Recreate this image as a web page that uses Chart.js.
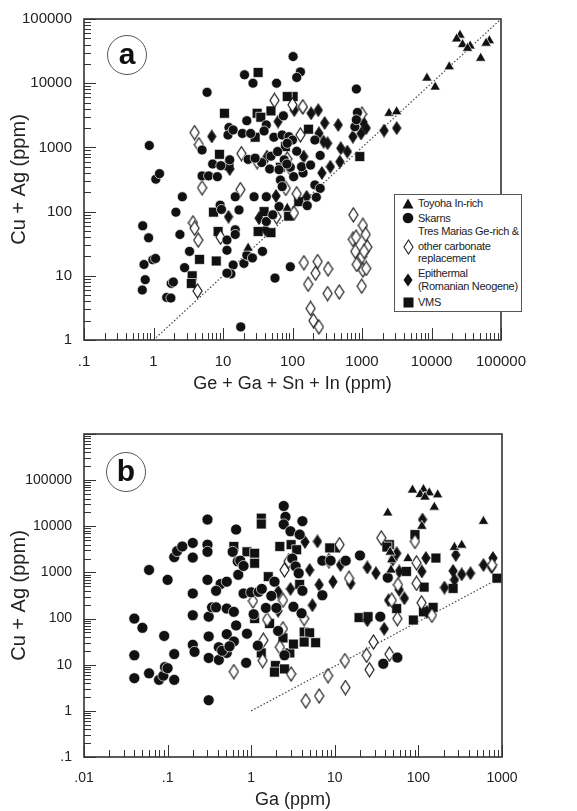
<!DOCTYPE html>
<html>
<head>
<meta charset="utf-8">
<script src="https://cdn.jsdelivr.net/npm/chart.js@4.4.1/dist/chart.umd.min.js"></script>
<style>
  body { margin: 0; background: #fff; font-family: "Liberation Sans", Arial, sans-serif; color: #222; }
  #wrap { position: relative; width: 577px; height: 811px; overflow: hidden; }
  canvas { position: absolute; left: 0; }
  #chartA { top: 0; }
  #chartB { top: 400px; }
  .panel { position: absolute; width: 38px; height: 38px; border: 1.3px solid #555; border-radius: 50%;
           font-weight: bold; font-size: 30px; line-height: 36px; text-align: center; color: #111; }
  .legend { position: absolute; box-sizing: border-box; border: 1px solid #555; background: #fff; }
  .legend span { position: absolute; left: 23px; font-size: 11px; line-height: 13px; letter-spacing: -0.3px; white-space: nowrap; color: #222; }
  .legend svg { position: absolute; }
</style>
</head>
<body>
<div id="wrap">
  <canvas id="chartA" width="577" height="400"></canvas>
  <canvas id="chartB" width="577" height="411"></canvas>
  <div class="panel" style="left:107px;top:35px">a</div>
  <div class="panel" style="left:106px;top:452px">b</div>
  <div class="legend" style="left:394px;top:194px;width:128px;height:118px">
    <svg style="left:7px;top:3px" width="12" height="11"><polygon points="6,0.5 11.5,10.5 0.5,10.5" fill="#111"/></svg>
    <span style="top:2px">Toyoha In-rich</span>
    <svg style="left:7px;top:17px" width="12" height="12"><circle cx="6" cy="6" r="5.3" fill="#111"/></svg>
    <span style="top:17px">Skarns</span>
    <svg style="left:8px;top:44px" width="11" height="16"><polygon points="5.5,1 10,8 5.5,15 1,8" fill="#fff" stroke="#222" stroke-width="1.1"/></svg>
    <span style="top:30px">Tres Marias Ge-rich &amp;</span>
    <span style="top:45px">other carbonate</span>
    <span style="top:57px">replacement</span>
    <svg style="left:8px;top:78px" width="10" height="14"><polygon points="5,0.5 9.5,7 5,13.5 0.5,7" fill="#111"/></svg>
    <span style="top:72px">Epithermal</span>
    <span style="top:84.5px">(Romanian Neogene)</span>
    <svg style="left:8px;top:102px" width="11" height="11"><rect x="0.5" y="0.5" width="10" height="10" fill="#111"/></svg>
    <span style="top:100.5px">VMS</span>
  </div>
</div>
<script>
// ---------- panel a : Ge+Ga+Sn+In vs Cu+Ag ----------
const xTicksA = [0.1, 1, 10, 100, 1000, 10000, 100000];
const yTicksA = [1, 10, 100, 1000, 10000, 100000];
const refLineA = [[1, 1], [100000, 100000]];

const toyohaA = [[25700,56000],[23000,49000],[28000,40000],[36000,38000],[51000,24500],[68000,46000],
  [61000,42000],[18000,18000],[8600,12000],[11300,8700],[2450,3400],[3150,3600],[33000,35000],[23,27],[84,113]];

const skarnsA = [[102,26000],[130,15000],[115,12300],[20.4,13500],[27,10000],[59,10000],[5.9,7200],[830,8100],
  [74,3100],[42,2240],[22,2600],[12.2,2040],[11.8,1560],[14,1870],[19,1650],[25,1650],[39,1800],[54,1440],
  [71,1560],[89,1470],[0.87,1070],[5.0,910],[5.0,360],[6.2,360],[8.3,350],[1.08,320],[1.22,390],[2.6,170],
  [2.1,98],[2.4,44],[3.3,24],[2.8,13.4],[0.7,60],[0.85,39],[0.73,15],[0.69,6.0],[0.76,8.7],[0.98,17.8],
  [1.07,18.6],[1.8,7.6],[1.93,8],[1.55,4.6],[1.78,4.5],[7.1,550],[9.3,520],[12.5,640],[17,106],[23,650],
  [36,580],[47,460],[64,450],[67,310],[93,490],[71,245],[28,170],[42,170],[15,170],[9.1,126],[9.5,108],
  [11.4,36],[15,52],[15,44],[11.4,25],[14,14.7],[13,10.7],[11.4,11],[20,15.6],[23,20.4],[22,21],[26.5,19],
  [37,24],[42,70],[52,89],[64,120],[93,13.8],[56,9.2],[18,1.6],[860,3500],[790,2100],[830,2700],[250,750],
  [210,260],[250,230],[220,167],[163,124],[142,400],[135,500],[115,870],[100,1300],[210,1300],[182,530],
  [76,640],[83,550],[104,350],[29,680],[49,730],[61,860],[84,1160]];

const tresMariasA = [[3.9,1700],[4.5,1100],[5.0,235],[3.7,67],[3.9,55],[4.4,36],[9.2,40],[4.3,5.8],[18.4,800],
  [17.8,220],[31,600],[55,5400],[84,660],[80,230],[59,83],[100,4600],[141,4300],[130,1570],[92,480],[115,190],
  [105,95],[750,89],[1030,61],[740,37],[820,40],[800,24],[1130,44],[1190,28],[1000,20],[1070,24],[1030,12.3],
  [1150,13],[990,6.9],[840,15],[146,16],[215,11],[230,16.7],[168,7.4],[325,12.8],[320,5.3],[470,5.6],
  [182,3.1],[200,2.0],[240,1.6],[1000,3300]];

const epithermalA = [[6.9,1480],[12.5,460],[12,83],[43,720],[58,175],[41,52],[33,79],[62,2530],[106,3800],
  [140,4200],[185,3400],[235,3800],[290,2400],[240,1660],[320,1160],[455,2240],[495,970],[615,860],[480,600],
  [350,500],[265,400],[740,1470],[970,1650],[1150,2000],[1030,2500],[2080,1830],[3160,2000],[280,1230],
  [145,720],[102,94],[160,170]];

const vmsA = [[32,14700],[102,6200],[84,6200],[10.5,3400],[31,3400],[49,3700],[35,2950],[29,1440],[170,1920],
  [79,1030],[8.9,780],[12.2,520],[7.3,98],[8.5,49],[8.0,17],[4.6,18],[3.6,10],[3.5,7.6],[39,100],[32,49],
  [49,47],[88,85],[123,143],[67,490],[930,720]];

// ---------- panel b : Ga vs Cu+Ag ----------
const xTicksB = [0.01, 0.1, 1, 10, 100, 1000];
const yTicksB = [0.1, 1, 10, 100, 1000, 10000, 100000];
const yMaxB = 1000000;
const refLineB = [[1, 1], [1000, 800]];

const toyohaB = [[85,61000],[115,63000],[135,53000],[105,49000],[170,48000],[155,26000],[120,43000],[43,19500],
  [600,12800],[270,3500],[330,3900],[75,2000],[48,1880],[47,1130],[46,2750],[110,10000]];

const skarnsB = [[0.04,100],[0.05,63],[0.04,16],[0.04,5.1],[0.06,6.5],[0.079,4.7],[0.089,5.8],[0.091,42],
  [0.093,8.9],[0.1,8.4],[0.12,4.7],[0.12,17],[0.1,690],[0.06,1130],[0.12,2140],[0.13,2900],[0.15,3650],
  [0.2,4350],[0.2,2100],[0.2,350],[0.2,118],[0.2,27],[0.21,19],[0.3,14000],[0.3,4000],[0.3,2800],[0.3,690],
  [0.31,110],[0.31,41],[0.31,14],[0.31,1.7],[0.34,175],[0.38,175],[0.43,560],[0.38,400],[0.41,24],[0.41,12.7],
  [0.51,630],[0.51,165],[0.51,46],[0.51,18],[0.62,140],[0.62,32],[0.66,8500],[0.6,2800],[0.69,1740],
  [0.74,1800],[0.7,890],[0.66,71],[0.81,1380],[0.81,350],[0.89,47],[0.87,11],[1.0,370],[1.23,380],[1.07,124],
  [1.2,26],[1.5,170],[1.74,310],[1.9,630],[2.0,170],[2.1,54],[2.45,27500],[2.57,16000],[2.45,11000],
  [2.95,7800],[3.8,6600],[4.1,12900],[3.1,2000],[3.4,1350],[3.7,960],[4.1,400],[3.2,180],[4.0,130],[7.1,320],
  [7.1,1800],[8.9,1800],[13.5,1800],[20,2330],[35,110],[38,10.5],[56,14.3],[43,770],[2.5,16],[1.34,440],
  [0.45,20],[0.55,25]];

const tresMariasB = [[36,5600],[91,4700],[95,1620],[95,580],[11.4,4000],[8.5,1800],[14.8,750],[2.5,1130],
  [2.8,1740],[2.4,250],[1.55,95],[1.4,34],[1.37,12.3],[1.05,240],[2.2,24],[2.4,60],[3.0,6.3],[0.62,7.1],
  [4.3,100],[4.5,1.65],[6.5,2.1],[8.3,5.8],[13.2,12.3],[13.4,3.2],[24,16],[26,7.8],[29,31],[45,17],[56,100],
  [48,250],[57,540],[109,220],[145,118],[760,1450]];

const epithermalB = [[2.1,380],[2.95,440],[4.4,4600],[6.2,4700],[5.0,1130],[6.5,540],[5.4,195],[9.5,630],
  [11.7,1450],[24.5,1280],[31,960],[15.5,580],[49,1870],[55,2600],[59,1050],[44,250],[39,60],[59,420],[68,275],
  [112,14000],[123,2050],[110,1050],[126,140],[205,470],[280,2400],[260,1080],[270,690],[330,910],[420,960],
  [600,1450],[780,2050],[750,1300],[24.5,92],[2.1,148]];

const vmsB = [[1.32,15000],[1.32,11200],[0.62,3650],[0.89,2800],[1.1,2600],[1.1,1580],[1.6,810],[1.1,100],
  [1.66,78],[1.32,18],[1.95,9.6],[1.9,6.9],[2.5,8.1],[2.2,3650],[3.0,4000],[3.5,3100],[2.4,38],[2.9,18],
  [3.2,28],[3.8,550],[4.3,51],[5.0,49],[5.9,30],[4.3,31],[10,3400],[8.7,3400],[19.5,105],[25,110],[45,4000],
  [42,3550],[72,1050],[55,165],[87,93],[115,140],[91,6600],[117,480],[150,175],[162,2050],[260,450],[870,750]];

// ---------- helpers ----------
function pts(arr) { return arr.map(p => ({ x: p[0], y: p[1] })); }

function diamond(w, h, fill) {
  const c = document.createElement('canvas');
  c.width = w + 2; c.height = h + 2;
  const g = c.getContext('2d');
  g.beginPath();
  g.moveTo(c.width / 2, 1); g.lineTo(w + 1, c.height / 2);
  g.lineTo(c.width / 2, h + 1); g.lineTo(1, c.height / 2);
  g.closePath();
  g.fillStyle = fill; g.fill();
  g.lineWidth = 1.2; g.strokeStyle = '#1a1a1a'; g.stroke();
  return c;
}
const openDiamond = diamond(9, 14, '#fff');
const solidDiamond = diamond(8, 12, '#111');

function fmt(v) { return String(v).replace(/^0\./, '.'); }

function series(label, arr, style, r) {
  return {
    label, data: pts(arr), order: 1,
    pointStyle: style, pointRadius: r, pointHoverRadius: r,
    pointBackgroundColor: '#111', pointBorderColor: 'rgba(255,255,255,0.85)', pointBorderWidth: 0.8
  };
}

// frame + inward log tick marks, positions from the chart's own scales
const frameTicks = {
  id: 'frameTicks',
  afterDatasetsDraw(chart) {
    const { ctx, chartArea: a, scales } = chart;
    ctx.save();
    ctx.strokeStyle = '#333';
    ctx.lineWidth = 1;
    const marks = (scale, horiz) => {
      const lo = Math.floor(Math.log10(scale.min)), hi = Math.ceil(Math.log10(scale.max));
      for (let e = lo; e <= hi; e++) {
        for (let m = 1; m <= 9; m++) {
          const v = m * Math.pow(10, e);
          if (v < scale.min * 0.999 || v > scale.max * 1.001) continue;
          const p = Math.round(scale.getPixelForValue(v)) + 0.5;
          const len = m === 1 ? 12 : 7;
          ctx.beginPath();
          if (horiz) { ctx.moveTo(p, a.bottom); ctx.lineTo(p, a.bottom - len); }
          else { ctx.moveTo(a.left, p); ctx.lineTo(a.left + len, p); }
          ctx.stroke();
        }
      }
    };
    marks(scales.x, true);
    marks(scales.y, false);
    ctx.lineWidth = 1.6;
    ctx.strokeRect(a.left, a.top, a.right - a.left, a.bottom - a.top);
    ctx.restore();
  }
};

function makeChart(canvasId, cfg) {
  return new Chart(document.getElementById(canvasId), {
    type: 'scatter',
    data: {
      datasets: [
        series('Toyoha In-rich', cfg.toyoha, 'triangle', cfg.tri),
        series('Skarns', cfg.skarns, 'circle', cfg.dot),
        series('Tres Marias Ge-rich & other carbonate replacement', cfg.tres, openDiamond, 6),
        series('Epithermal (Romanian Neogene)', cfg.epi, solidDiamond, 6),
        series('VMS', cfg.vms, 'rect', 7),
        {
          label: 'ref', data: pts(cfg.ref), showLine: true, order: 9,
          borderColor: '#444', borderWidth: 1.2, borderDash: [1.5, 2], pointRadius: 0
        }
      ]
    },
    options: {
      responsive: false,
      animation: false,
      events: [],
      layout: { padding: { left: 0, right: cfg.padRight, top: cfg.padTop, bottom: 0 } },
      plugins: { legend: { display: false }, tooltip: { enabled: false } },
      scales: {
        x: {
          type: 'logarithmic', min: cfg.xTicks[0], max: cfg.xTicks[cfg.xTicks.length - 1],
          afterBuildTicks: s => { s.ticks = cfg.xTicks.map(v => ({ value: v })); },
          afterFit: s => { s.height = cfg.xHeight; },
          grid: { display: false }, border: { display: false },
          ticks: { autoSkip: false, maxRotation: 0, padding: 5, color: '#222',
                   font: { size: cfg.tickSize, family: 'Liberation Sans' }, callback: v => fmt(v) },
          title: { display: true, text: cfg.xTitle, color: '#222',
                   font: { size: 18, family: 'Liberation Sans' }, padding: { top: 0, bottom: cfg.xTitlePad } }
        },
        y: {
          type: 'logarithmic', min: cfg.yTicks[0], max: cfg.yMax,
          afterBuildTicks: s => { s.ticks = cfg.yTicks.map(v => ({ value: v })); },
          afterFit: s => { s.width = 84; },
          grid: { display: false }, border: { display: false },
          ticks: { autoSkip: false, padding: 4, color: '#222',
                   font: { size: cfg.tickSize, family: 'Liberation Sans' }, callback: v => fmt(v) },
          title: { display: true, text: 'Cu + Ag (ppm)', color: '#222',
                   font: { size: 20, family: 'Liberation Sans' }, padding: { top: 7, bottom: 0 } }
        }
      }
    },
    plugins: [frameTicks]
  });
}

makeChart('chartA', {
  toyoha: toyohaA, skarns: skarnsA, tres: tresMariasA, epi: epithermalA, vms: vmsA, ref: refLineA,
  xTicks: xTicksA, yTicks: yTicksA, yMax: yTicksA[yTicksA.length - 1],
  padRight: 76, padTop: 19, xHeight: 60, xTitlePad: 5, tickSize: 15, tri: 6, dot: 5,
  xTitle: 'Ge + Ga + Sn + In (ppm)'
});

makeChart('chartB', {
  toyoha: toyohaB, skarns: skarnsB, tres: tresMariasB, epi: epithermalB, vms: vmsB, ref: refLineB,
  xTicks: xTicksB, yTicks: yTicksB, yMax: yMaxB,
  padRight: 75, padTop: 34, xHeight: 54, xTitlePad: 0, tickSize: 14, tri: 6, dot: 5.5,
  xTitle: 'Ga (ppm)'
});
</script>
</body>
</html>
